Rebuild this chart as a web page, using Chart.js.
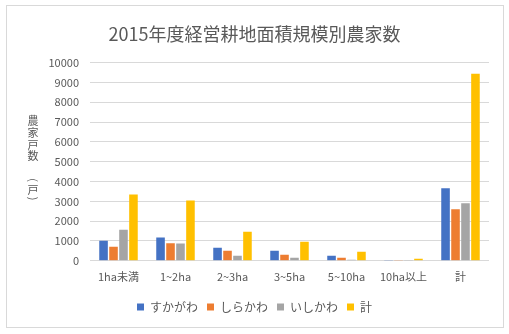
<!DOCTYPE html>
<html>
<head>
<meta charset="utf-8">
<script src="https://cdn.jsdelivr.net/npm/chart.js@4/dist/chart.umd.min.js"></script>
<style>
  html, body { margin: 0; padding: 0; background: #fff; }
  #wrap { width: 509px; height: 334px; }
</style>
</head>
<body>
<div id="wrap"><canvas id="farmChart" width="509" height="334"></canvas></div>
<script>
const categories = ['1ha未満', '1~2ha', '2~3ha', '3~5ha', '5~10ha', '10ha以上', '計'];
const seriesNames = ['すかがわ', 'しらかわ', 'いしかわ', '計'];
const sukagawa = [1015, 1170, 660, 510, 260, 40, 3655];
const shirakawa = [710, 880, 510, 305, 150, 40, 2595];
const ishikawa = [1570, 870, 255, 150, 50, 40, 2900];
const total = [3350, 3045, 1470, 965, 460, 100, 9440];
const yTicks = [0, 1000, 2000, 3000, 4000, 5000, 6000, 7000, 8000, 9000, 10000];

const colors = ['#4472C4', '#ED7D31', '#A5A5A5', '#FFC000'];
const textColor = '#595959';
const fontFamily = "'Noto Sans CJK JP', 'Noto Sans', sans-serif";

// white background and the thin outer frame
const framePlugin = {
    id: 'frame',
    beforeDraw(chart) {
        const c = chart.ctx;
        c.save();
        c.fillStyle = '#fff';
        c.fillRect(0, 0, chart.width, chart.height);
        c.strokeStyle = '#d9d9d9';
        c.lineWidth = 1;
        c.strokeRect(6.5, 5.5, 497, 322);
        c.restore();
    }
};

// y axis title written top to bottom, with the brackets turned sideways
const verticalTitle = {
    id: 'verticalTitle',
    afterDraw(chart) {
        const c = chart.ctx;
        const x = 33;
        const parts = [
            ['農', 121, false], ['家', 133, false], ['戸', 144.5, false], ['数', 156, false],
            ['(', 180, true], ['戸', 190, false], [')', 198.5, true]
        ];
        c.save();
        c.fillStyle = textColor;
        c.font = '11px ' + fontFamily;
        c.textAlign = 'center';
        c.textBaseline = 'middle';
        parts.forEach(([ch, y, turn]) => {
            if (turn) {
                c.save();
                c.translate(x, y);
                c.rotate(Math.PI / 2);
                c.fillText(ch, 0, 0);
                c.restore();
            } else {
                c.fillText(ch, x, y);
            }
        });
        c.restore();
    }
};

const ctx = document.getElementById('farmChart').getContext('2d');
new Chart(ctx, {
    type: 'bar',
    data: {
        labels: categories,
        datasets: [sukagawa, shirakawa, ishikawa, total].map((values, i) => ({
            label: seriesNames[i],
            data: values,
            backgroundColor: colors[i],
            borderWidth: 0,
            categoryPercentage: 0.7,
            barPercentage: 0.86
        }))
    },
    options: {
        responsive: false,
        animation: false,
        layout: { padding: { left: 0, right: 0, top: 0, bottom: 11 } },
        plugins: {
            title: {
                display: true,
                text: '2015年度経営耕地面積規模別農家数',
                color: textColor,
                font: { family: fontFamily, size: 18, weight: 'normal' },
                padding: { top: 23, bottom: 18 }
            },
            legend: {
                position: 'bottom',
                labels: {
                    color: textColor,
                    font: { family: fontFamily, size: 12 },
                    boxWidth: 7,
                    boxHeight: 7,
                    padding: 9
                }
            },
            tooltip: { enabled: false }
        },
        scales: {
            x: {
                grid: { display: false, drawTicks: false },
                border: { display: false },
                ticks: {
                    color: textColor,
                    font: { family: fontFamily, size: 11 },
                    padding: 9,
                    maxRotation: 0
                }
            },
            y: {
                min: 0,
                max: 10000,
                afterFit(scale) { scale.width = 90; },
                afterBuildTicks(scale) { scale.ticks = yTicks.map(v => ({ value: v })); },
                grid: { color: '#d9d9d9', drawTicks: false },
                border: { display: false },
                ticks: {
                    color: textColor,
                    font: { family: fontFamily, size: 11 },
                    padding: 11,
                    callback: (v) => String(v)
                }
            },
            // empty right-hand gutter so title and legend stay centred on the canvas
            gutter: {
                position: 'right',
                afterFit(scale) { scale.width = 20; },
                grid: { display: false, drawTicks: false },
                border: { display: false },
                ticks: { display: false }
            }
        }
    },
    plugins: [framePlugin, verticalTitle]
});
</script>
</body>
</html>
